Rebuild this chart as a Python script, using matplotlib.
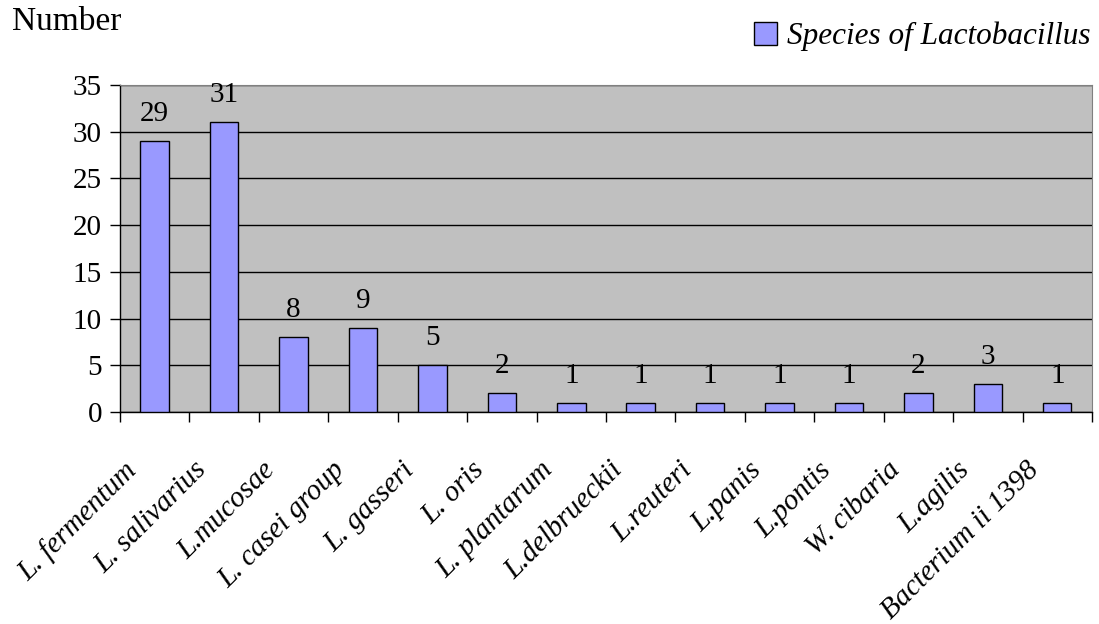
import matplotlib
matplotlib.use('Agg')
import matplotlib.pyplot as plt
from matplotlib.patches import Patch
from matplotlib.transforms import ScaledTranslation

# ---- data ----
species = ['L. fermentum', 'L. salivarius', 'L.mucosae', 'L. casei group',
           'L. gasseri', 'L. oris', 'L. plantarum', 'L.delbrueckii',
           'L.reuteri', 'L.panis', 'L.pontis', 'W. cibaria', 'L.agilis',
           'Bacterium ii 1398']
counts = [29, 31, 8, 9, 5, 2, 1, 1, 1, 1, 1, 2, 3, 1]
yticks = [0, 5, 10, 15, 20, 25, 30, 35]

plt.rcParams['font.family'] = ['Liberation Serif', 'DejaVu Serif']
FS = 21

fig = plt.figure(figsize=(10.99, 6.24), dpi=100)
ax = fig.add_axes([0.1092, 0.3397, 0.9936 - 0.1092, 0.8638 - 0.3397])
ax.set_facecolor('#C0C0C0')

x = list(range(len(species)))
bars = ax.bar(x, counts, width=0.41, color='#9999FF', edgecolor='black',
              linewidth=1.0, zorder=3)

for xi, v in zip(x, counts):
    ax.annotate(str(v), (xi, v), xytext=(0, 10), textcoords='offset points',
                ha='center', va='bottom', fontsize=FS, zorder=4)

ax.set_xlim(-0.5, len(species) - 0.5)
ax.set_ylim(0, 35)
ax.set_yticks(yticks)
ax.set_yticklabels([str(t) for t in yticks], fontsize=FS)
ax.yaxis.grid(True, color='black', linewidth=1.0, zorder=1)
ax.set_axisbelow(True)

# category boundaries as tick marks, labels centred on the bars
ax.set_xticks([i - 0.5 for i in range(len(species) + 1)], minor=True)
ax.set_xticks(x)
ax.set_xticklabels(species, fontsize=FS, style='italic', rotation=45,
                   ha='right', va='center', rotation_mode='anchor')
ax.tick_params(axis='x', which='major', length=0, pad=39)
ax.tick_params(axis='x', which='minor', length=7, width=1.0, direction='out')
ax.tick_params(axis='y', length=7, width=1.0, direction='out', pad=6)
shift = ScaledTranslation(-22 / 100, 0, fig.dpi_scale_trans)
for lab in ax.get_xticklabels():
    lab.set_transform(lab.get_transform() + shift)

for side in ('top', 'right'):
    ax.spines[side].set_color('#808080')
for side in ('left', 'bottom'):
    ax.spines[side].set_color('black')
    ax.spines[side].set_linewidth(1.0)

fig.text(0.011, 0.99, 'Number', fontsize=24, ha='left', va='top')

handle = Patch(facecolor='#9999FF', edgecolor='black', linewidth=1.0)
fig.legend([handle], ['Species of Lactobacillus'], loc='upper right',
           bbox_to_anchor=(1.009, 0.995), frameon=False,
           prop={'size': 22.5, 'style': 'italic'}, handlelength=0.75,
           handleheight=0.75, handletextpad=0.3, borderaxespad=0.2)

fig.savefig('out.png', dpi=100)
